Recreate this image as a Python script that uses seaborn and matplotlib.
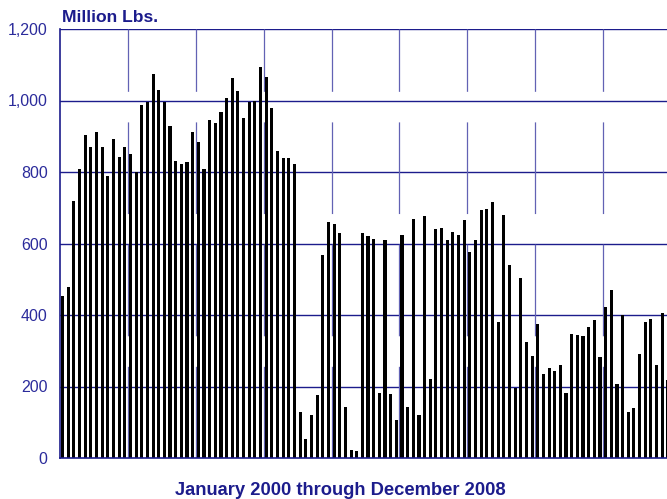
import pandas as pd
import matplotlib
matplotlib.use("Agg")
import matplotlib.pyplot as plt
import seaborn as sns

# Monthly values, Million Lbs.
v2000 = [454, 479, 720, 809, 904, 870, 912, 870, 790, 893, 842, 870]
v2001 = [851, 799, 987, 997, 1074, 1029, 996, 928, 831, 821, 829, 911]
v2002 = [883, 809, 946, 936, 968, 1007, 1063, 1026, 952, 997, 1000, 1094]
v2003 = [1066, 980, 859, 839, 839, 822, 130, 54, 120, 177, 568, 660]
v2004 = [655, 630, 143, 21, 20, 630, 620, 612, 181, 609, 179, 105]
v2005 = [623, 143, 668, 120, 677, 220, 641, 643, 610, 633, 623, 666]
v2006 = [575, 610, 695, 697, 716, 381, 680, 541, 196, 504, 325, 284]
v2007 = [374, 235, 253, 242, 259, 183, 347, 344, 342, 367, 386, 283]
v2008 = [423, 470, 208, 400, 130, 141, 290, 380, 390, 259, 405, 219]

values = v2000 + v2001 + v2002 + v2003 + v2004 + v2005 + v2006 + v2007 + v2008
months = pd.date_range("2000-01-01", periods=len(values), freq="MS").strftime("%b %Y")
df = pd.DataFrame({"month": months, "lbs": values})

yticks = [0, 200, 400, 600, 800, 1000, 1200]
navy = "#1c1c8c"
tick_blue = "#2b2b9b"

plt.rcParams["font.family"] = ["Liberation Sans", "DejaVu Sans"]
plt.rcParams["lines.scale_dashes"] = False

fig = plt.figure(figsize=(6.67, 4.99), dpi=100)
ax = fig.add_axes([60 / 667, 41 / 499, 611 / 667, 429 / 499])

# gridlines behind the bars
for y in yticks[1:]:
    ax.axhline(y, color=navy, lw=1.0, zorder=0)
for k in range(1, 9):
    x = -0.45 + 12 * k
    ax.plot([x, x], [0, 1200], color="#6262b4", lw=0.9,
            linestyle=(0, (66, 22)), zorder=0)

sns.barplot(data=df, x="month", y="lbs", color="black", saturation=1,
            width=0.55, linewidth=0, ax=ax, zorder=2)

ax.set_xlim(-0.45, 107.55)
ax.set_ylim(0, 1200)
ax.set_yticks(yticks)
ax.set_yticklabels([f"{t:,}" for t in yticks], color=tick_blue, fontsize=11.5)
ax.tick_params(axis="y", length=0, pad=9)
ax.set_xticks([])
ax.set_xlabel("")
ax.set_ylabel("")
for s in ["top", "right"]:
    ax.spines[s].set_visible(False)
for s in ["left", "bottom"]:
    ax.spines[s].set_color(navy)
    ax.spines[s].set_linewidth(1.2)

fig.text(62 / 667, 1 - 22 / 499, "Million Lbs.", color=navy, fontsize=12.6,
         fontweight="bold", ha="left", va="baseline")
fig.text(340 / 667, 1 - 495 / 499, "January 2000 through December 2008",
         color=navy, fontsize=13.2, fontweight="bold", ha="center", va="baseline")

fig.savefig("out.png", dpi=100)
